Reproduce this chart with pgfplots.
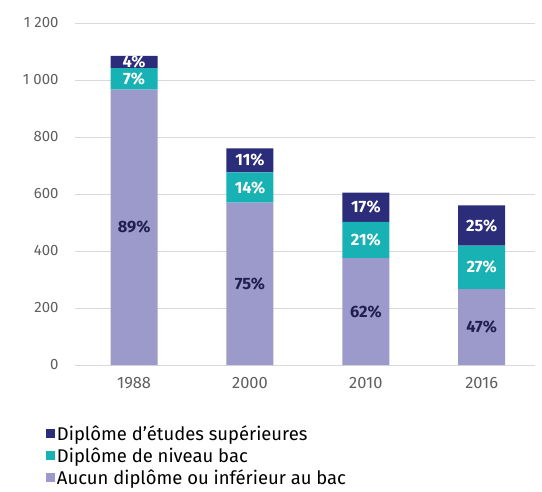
\documentclass[border=0pt]{standalone}
\usepackage{fontspec}
\setmainfont{Fira Sans}
\usepackage{pgfplots}
\pgfplotsset{compat=1.18}
\usepackage{pgfplotstable}
\definecolor{cnavy}{RGB}{43,45,122}
\definecolor{cteal}{RGB}{24,178,180}
\definecolor{clav}{RGB}{156,154,203}
\definecolor{ctxt}{RGB}{30,32,80}
\definecolor{cgray}{RGB}{95,95,95}

% x, effectif (segment), part en %
\pgfplotstableread{
x val pct
0 966 89
1 570 75
2 375 62
3 266 47
}\aucun
\pgfplotstableread{
x val pct
0 76 7
1 106 14
2 127 21
3 153 27
}\bac
\pgfplotstableread{
x val pct
0 43 4
1 84 11
2 103 17
3 141 25
}\sup

\begin{document}
\begin{tikzpicture}
\begin{axis}[
  scale only axis, width=460bp, height=342bp,
  ybar stacked, bar width=47bp,
  xmin=-0.51, xmax=3.46,
  ymin=0, ymax=1200,
  ytick={0,200,400,600,800,1000,1200},
  yticklabels={0,200,400,600,800,{1\kern4bp000},{1\kern4bp200}},
  xtick={0,1,2,3}, xticklabels={1988,2000,2010,2016},
  axis line style={draw=none},
  tick style={draw=none},
  ymajorgrids, grid style={gray!30, line width=0.6pt},
  /pgf/number format/assume math mode=true,
  ticklabel style={text=cgray},
  xticklabel style={yshift=-9bp, font=\fontsize{16.5}{18}\selectfont},
  yticklabel style={xshift=-13bp, font=\fontsize{15}{17}\selectfont},
  point meta=explicit,
  nodes near coords={\pgfmathprintnumber{\pgfplotspointmeta}\%},
  every node near coord/.append style={anchor=center, font=\fontsize{16.5}{18}\selectfont\bfseries},
  reverse legend,
  legend style={at={(-0.0635,-0.17)}, anchor=north west, draw=none, fill=none,
    font=\fontsize{18.5}{20}\selectfont, row sep=2bp, inner sep=0pt},
  legend cell align=left,
  legend image code/.code={\fill[#1] (-3bp,-4.5bp) rectangle (6bp,4.5bp);},
]
\addplot[fill=clav, draw=none, every node near coord/.append style={text=ctxt}]
  table[x=x, y=val, meta=pct] {\aucun};
\addplot[fill=cteal, draw=none, every node near coord/.append style={text=white}]
  table[x=x, y=val, meta=pct] {\bac};
\addplot[fill=cnavy, draw=none, every node near coord/.append style={text=white}]
  table[x=x, y=val, meta=pct] {\sup};
\legend{Aucun diplôme ou inférieur au bac, Diplôme de niveau bac, Diplôme d'études supérieures}
\end{axis}
\path (current axis.south west) ++(-75bp,-127bp) rectangle ++(542bp,492bp);
\end{tikzpicture}
\end{document}
